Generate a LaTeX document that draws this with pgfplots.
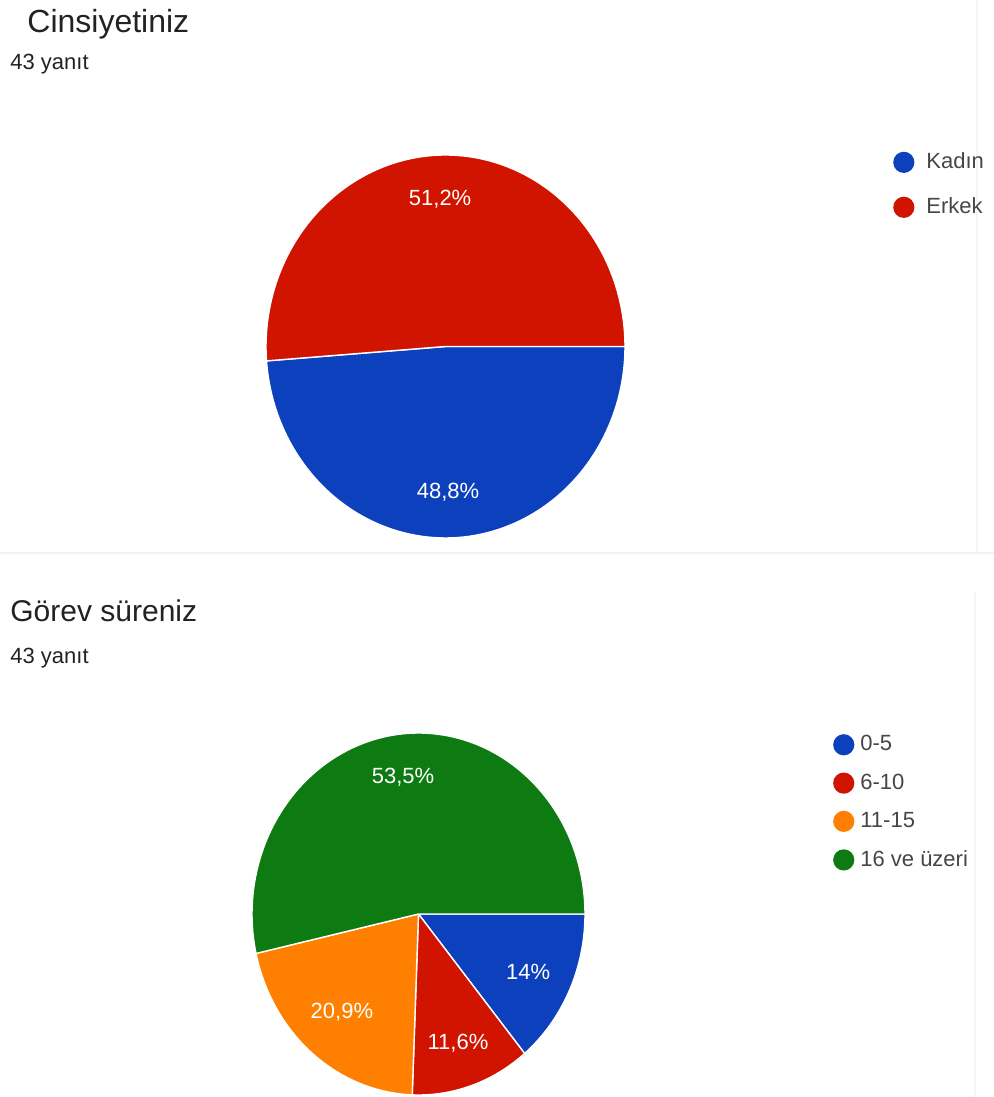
\documentclass[border=0pt]{standalone}
\usepackage{pgfplots}
\pgfplotsset{compat=1.18}
\usepackage{fontspec}
\setmainfont{Liberation Sans}
\definecolor{gblue}{RGB}{12,64,188}
\definecolor{gred}{RGB}{208,20,0}
\definecolor{gorange}{RGB}{255,128,0}
\definecolor{ggreen}{RGB}{14,122,18}
\definecolor{gtext}{RGB}{34,34,36}
\definecolor{gleg}{RGB}{70,70,74}
% slice: start %, end %, colour, legend text
\newcommand{\slice}[4]{%
  \addplot[fill=#3, draw=white, line width=0.7pt, domain={-3.6*(#2)}:{-3.6*(#1)}, samples=120, variable=\t]
    ({cos(\t)},{sin(\t)}) -- (axis cs:0,0) -- cycle;
  \addlegendentry{\legsp #4}}
\newcommand{\legsp}{}
\pgfplotsset{pie/.style={
  hide axis, scale only axis, clip=false,
  xmin=-1, xmax=1, ymin=-1, ymax=1,
  legend cell align=left,
  legend image code/.code={\fill[draw=none] (0pt,0pt) circle (5.3pt);},
  legend style={draw=none, fill=none, anchor=north west, inner sep=0pt,
     font=\fontsize{11}{13}\selectfont, text=gleg},
}}
\newcommand{\lab}[1]{\fontsize{11}{13}\selectfont\color{white}#1}
\begin{document}
\begin{tikzpicture}[x=0.5pt,y=0.5pt]
\useasboundingbox (0,0) rectangle (994,1097);
\coordinate (c1) at (445.5,750.5);
\coordinate (c2) at (418.5,183);
% separators
\draw[gray!10, line width=1pt] (0,544) -- (994,544);
\draw[gray!6, line width=1pt] (977,545) -- (977,1097);
\draw[gray!6, line width=1pt] (975,0) -- (975,505);
% titles
\node[anchor=base west, inner sep=0pt, text=gtext, font=\fontsize{16}{19}\selectfont] at (27,1064) {Cinsiyetiniz};
\node[anchor=base west, inner sep=0pt, text=gtext, font=\fontsize{11}{13}\selectfont] at (10,1027) {43 yanıt};
\node[anchor=base west, inner sep=0pt, text=gtext, font=\fontsize{15}{18}\selectfont] at (10,475) {Görev süreniz};
\node[anchor=base west, inner sep=0pt, text=gtext, font=\fontsize{11}{13}\selectfont] at (10,433) {43 yanıt};

% ---- Cinsiyetiniz ----
\renewcommand{\legsp}{\hspace{4pt}}
\begin{axis}[pie, at={(c1)}, anchor=center, width=179.5pt, height=191.5pt,
  legend style={at={(1.746,1.017)}, row sep=9pt}]
\slice{0}{48.8}{gblue}{Kadın}
\slice{48.8}{100}{gred}{Erkek}
\node at (axis cs:-0.03,0.77) {\lab{51,2\%}};
\node at (axis cs:0.014,-0.76) {\lab{48,8\%}};
\end{axis}

% ---- Görev süreniz ----
\renewcommand{\legsp}{\hspace{1pt}}
\begin{axis}[pie, at={(c2)}, anchor=center, width=166.5pt, height=181pt,
  legend style={at={(1.744,1.005)}, row sep=6pt}]
\slice{0}{14.0}{gblue}{0-5}
\slice{14.0}{25.6}{gred}{6-10}
\slice{25.6}{46.5}{gorange}{11-15}
\slice{46.5}{100}{ggreen}{16 ve üzeri}
\node at (axis cs:-0.093,0.757) {\lab{53,5\%}};
\node at (axis cs:0.658,-0.32) {\lab{14\%}};
\node at (axis cs:-0.46,-0.54) {\lab{20,9\%}};
\node at (axis cs:0.237,-0.713) {\lab{11,6\%}};
\end{axis}
\end{tikzpicture}
\end{document}
